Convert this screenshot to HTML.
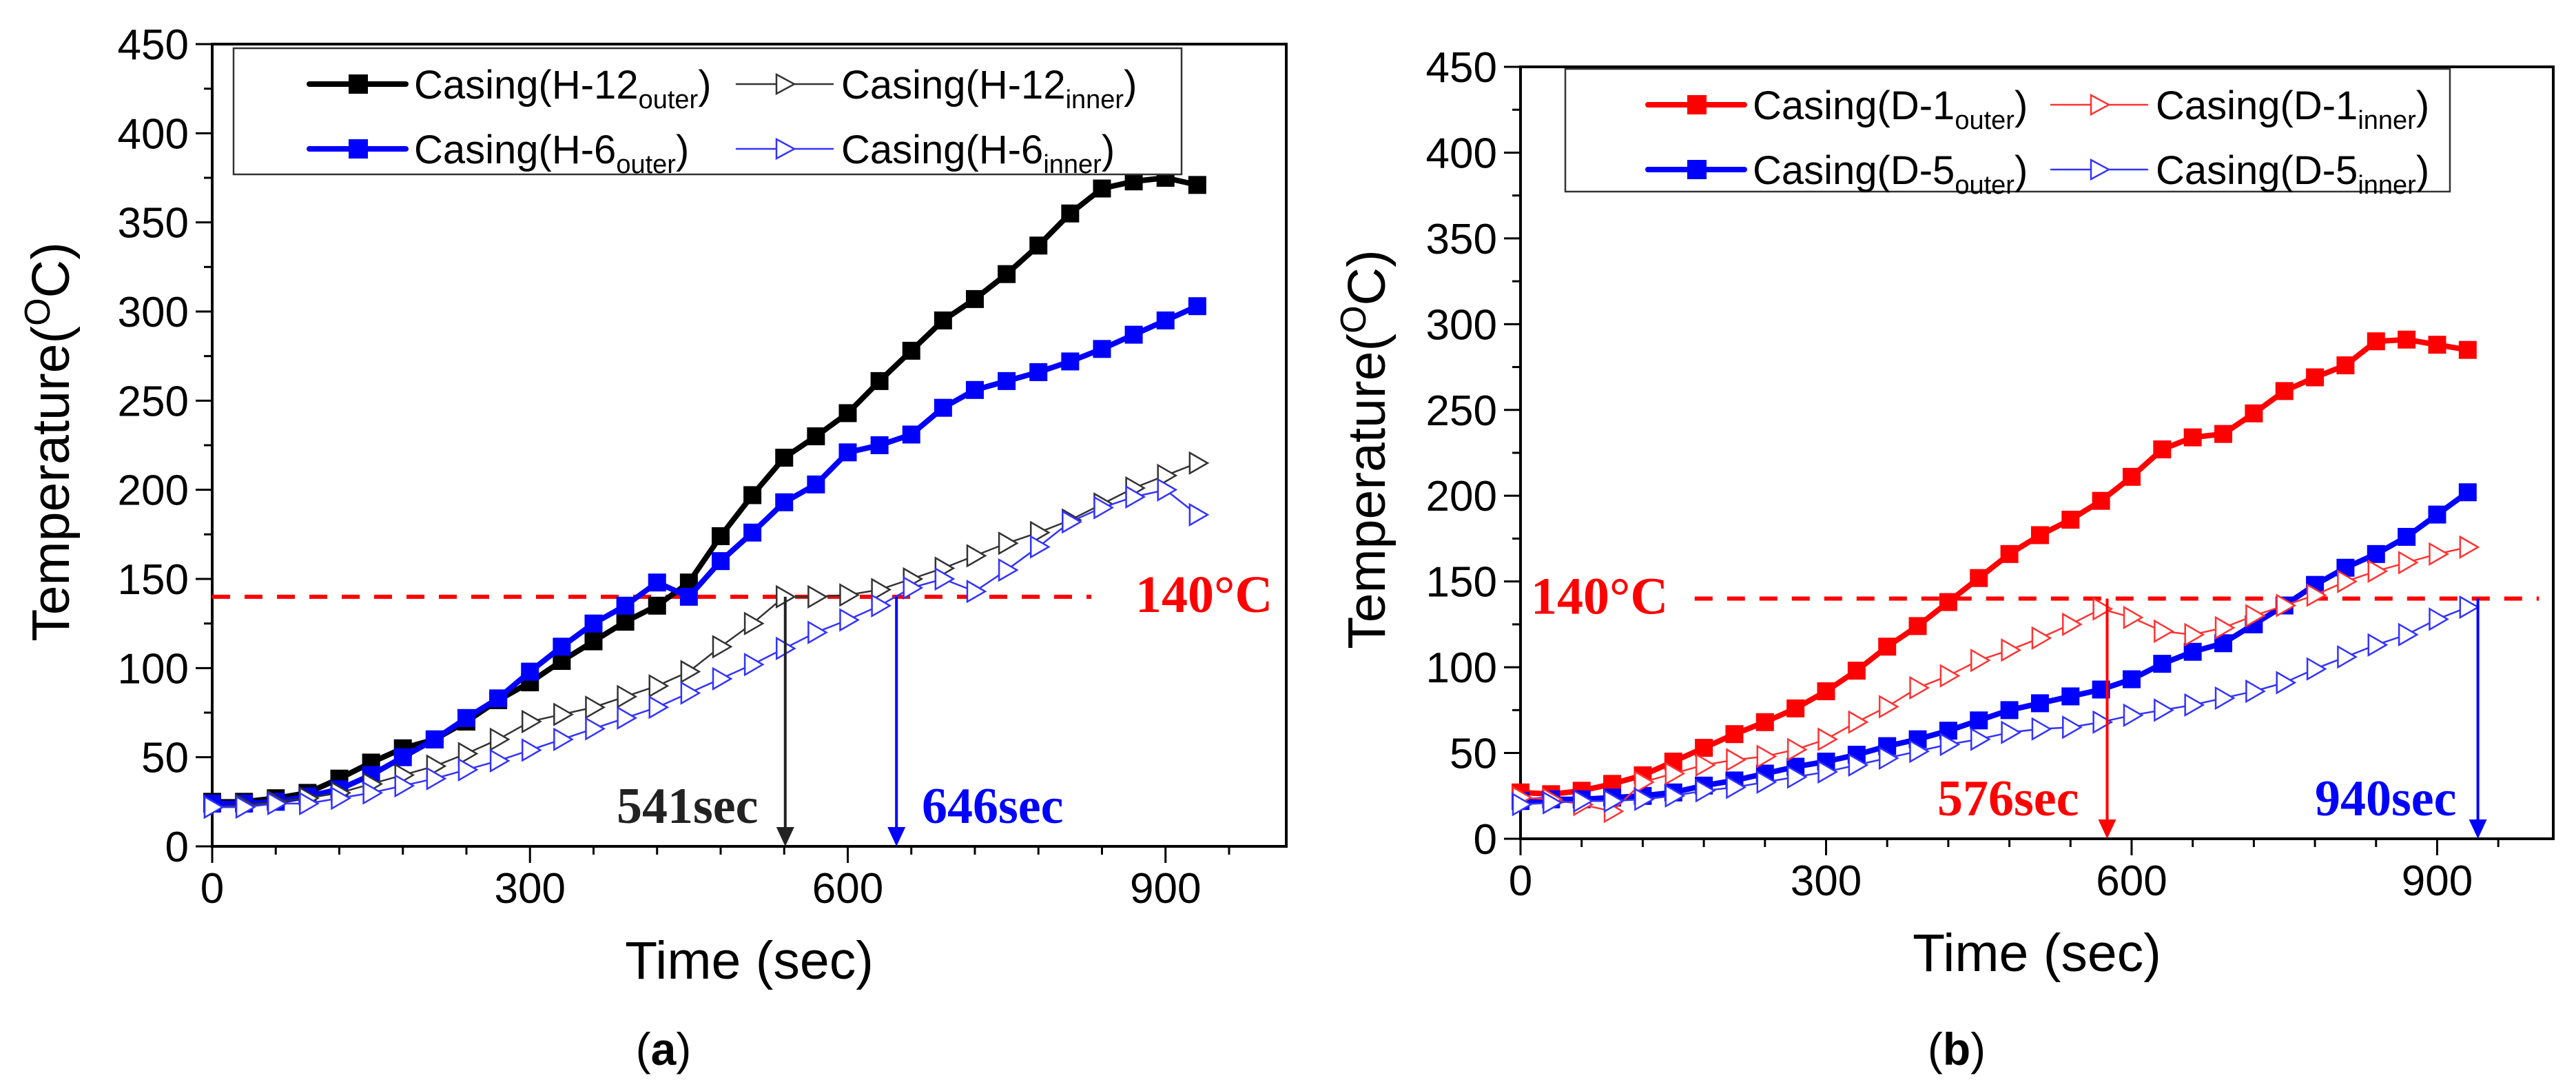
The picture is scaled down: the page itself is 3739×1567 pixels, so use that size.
<!DOCTYPE html>
<html><head><meta charset="utf-8"><style>
html,body{margin:0;padding:0;background:#fff;}
svg{display:block;}
text{font-family:"Liberation Sans",sans-serif;}
.serif{font-family:"Liberation Serif",serif;font-weight:bold;}
</style></head><body>
<svg id="fig" width="3739" height="1567" viewBox="0 0 3739 1567" xmlns="http://www.w3.org/2000/svg">
<g id="pa"></g>
<g id="pb"></g>
</svg>
<script>
const times = [0,30,60,90,120,150,180,210,240,270,300,330,360,390,420,450,480,510,540,570,600,630,660,690,720,750,780,810,840,870,900,930];
const h12Outer = [25,25,27,30,38,47,55,60,70,82,92,104,115,126,135,148,174,197,218,230,243,261,278,295,307,321,337,355,369,373,375,371];
const h6Outer = [24,24,25,28,32,40,50,60,72,83,98,112,125,135,148,140,160,176,193,203,221,225,231,246,256,261,266,272,279,287,295,303];
const h12Inner = [22,23,25,27,30,35,40,45,52,60,70,74,78,84,90,98,112,125,140,140,141,144,150,156,163,170,176,183,192,201,208,215];
const h6Inner = [22,22,24,24,27,30,34,38,43,48,54,60,66,72,78,86,94,102,111,120,127,135,145,150,143,155,168,182,190,196,200,186];
const d1Outer = [27,26,28,32,37,45,53,61,68,76,86,98,112,124,138,152,166,177,186,197,211,227,234,236,248,261,269,276,290,291,288,285];
const d1Inner = [24,23,20,16,33,38,43,46,48,52,58,68,77,88,95,104,110,117,125,134,129,121,119,123,130,136,142,150,156,161,166,170];
const d5Outer = [22,23,23,24,25,27,31,34,38,42,45,49,54,58,63,69,75,79,83,87,93,102,109,114,125,136,148,158,166,176,189,202];
const d5Inner = [20,21,22,22,23,25,28,30,33,36,39,43,47,51,55,58,62,64,65,68,72,75,78,82,86,91,99,106,113,119,128,135];
const yTicks = [0,50,100,150,200,250,300,350,400,450];
const xTicks = [0,300,600,900];
const thresholdA = 140, arrowsA = [541,646];
const thresholdB = 140, arrowsB = [576,940];

const NS = "http://www.w3.org/2000/svg";
function mk(parent, tag, attrs, text){
  const e = document.createElementNS(NS, tag);
  for (const k in attrs) e.setAttribute(k, attrs[k]);
  if (text !== undefined) e.textContent = text;
  parent.appendChild(e); return e;
}

function chart(g, cfg){
  const L=cfg.L, R=cfg.R, T=cfg.T, B=cfg.B, xmax=1014, ymax=450;
  const sx = v => L + v/xmax*(R-L);
  const sy = v => B - v/ymax*(B-T);
  const fr = mk(g,'rect',{x:L,y:T,width:R-L,height:B-T,fill:'none',stroke:'#000','stroke-width':4});
  
  
  for (let v=0; v<=450; v+=25){
    const major = v%50===0;
    const t = mk(g,'line',{x1:L-(major?24:12),x2:L,y1:sy(v),y2:sy(v),stroke:'#000','stroke-width':3});
    
    
  }
  yTicks.forEach(v=>{
    const t = mk(g,'text',{x:L-34,y:sy(v)+22,'font-size':62,'text-anchor':'end',fill:'#000'},String(v));
    
    
  });
  for (let v=0; v<=xmax; v+=60){
    const major = v%300===0;
    const t = mk(g,'line',{x1:sx(v),x2:sx(v),y1:B,y2:B+(major?24:12),stroke:'#000','stroke-width':3});
    
    
  }
  xTicks.forEach(v=>{
    const t = mk(g,'text',{x:sx(v),y:B+82,'font-size':62,'text-anchor':'middle',fill:'#000'},String(v));
    
    
  });
  const xt = mk(g,'text',{x:(L+R)/2,y:B+192,'font-size':77,'text-anchor':'middle',fill:'#000'},'Time (sec)');
  
  
  const yt = mk(g,'text',{transform:`translate(${cfg.yTitleX},${(T+B)/2-5}) rotate(-90)`,'font-size':77,'text-anchor':'middle',fill:'#000'});
  
  
  mk(yt,'tspan',{},'Temperature(');
  mk(yt,'tspan',{'font-size':52,dy:-28},'O');
  mk(yt,'tspan',{dy:28},'C)');
  const th = mk(g,'line',{x1:sx(cfg.dashFrom),x2:sx(cfg.dashTo),y1:sy(cfg.thr),y2:sy(cfg.thr),stroke:'#f00','stroke-width':6,'stroke-dasharray':'26 21'});
  
  
  const tl = mk(g,'text',{x:cfg.thrLabelX,y:sy(cfg.thr)+22,'font-size':76,fill:'#f00','class':'serif'},'140°C');
  
  
  cfg.series.forEach(s=>{
    const sg = mk(g,'g',{});
    
    
    const pts = times.map((t,i)=>sx(t)+','+sy(s.data[i])).join(' ');
    mk(sg,'polyline',{points:pts,fill:'none',stroke:s.color,'stroke-width':s.filled?8:2.5,'stroke-linejoin':'round'});
    times.forEach((t,i)=>{
      const x=sx(t), y=sy(s.data[i]);
      let m;
      if (s.filled) m = mk(sg,'rect',{x:x-13,y:y-13,width:26,height:26,fill:s.color});
      else m = mk(sg,'polygon',{points:`${x-11},${y-15} ${x+15},${y} ${x-11},${y+15}`,fill:'#fff',stroke:s.color,'stroke-width':2.5});
      
      
    });
  });
  cfg.arrows.forEach(a=>{
    const x=sx(a.t);
    const ag = mk(g,'g',{});
    
    
    mk(ag,'line',{x1:x,x2:x,y1:sy(cfg.thr),y2:B-26,stroke:a.color,'stroke-width':4});
    mk(ag,'polygon',{points:`${x-13},${B-28} ${x+13},${B-28} ${x},${B}`,fill:a.color});
    const lt = mk(g,'text',{x:a.lx,y:B-34,'font-size':74,fill:a.color,'class':'serif'},a.t+'sec');
    
    
  });
  const lg = mk(g,'g',{});
  
  
  mk(lg,'rect',{x:cfg.leg.x,y:cfg.leg.y,width:cfg.leg.w,height:cfg.leg.h,fill:'#fff',stroke:'#333','stroke-width':2.5});
  cfg.series.forEach((s,i)=>{
    const col=i<2?0:1, row=i%2;
    const lx = cfg.leg.x + (col===0?cfg.leg.c1:cfg.leg.c2);
    const ly = cfg.leg.y + 52 + row*94;
    const e = mk(lg,'g',{});
    
    
    mk(e,'line',{x1:lx,x2:lx+140,y1:ly,y2:ly,stroke:s.color,'stroke-width':s.filled?8:2.5,'stroke-linecap':'round'});
    if (s.filled) mk(e,'rect',{x:lx+57,y:ly-14,width:28,height:28,fill:s.color});
    else mk(e,'polygon',{points:`${lx+58},${ly-14} ${lx+84},${ly} ${lx+58},${ly+14}`,fill:'#fff',stroke:s.color,'stroke-width':2.5});
    const t = mk(e,'text',{x:lx+152,y:ly+21,'font-size':58,fill:'#000'});
    mk(t,'tspan',{},s.label);
    mk(t,'tspan',{'font-size':38,dy:14},s.sub);
    mk(t,'tspan',{dy:-14},')');
  });
  const cp = mk(g,'text',{x:cfg.capX,y:1545,'font-size':66,'text-anchor':'middle',fill:'#000','font-family':'Liberation Serif, serif'});
  
  
  mk(cp,'tspan',{},'(');
  mk(cp,'tspan',{'font-weight':'bold'},cfg.cap);
  mk(cp,'tspan',{},')');
}

chart(document.getElementById('pa'),{
  L:308,R:1867,T:64,B:1228,yTitleX:100,thr:thresholdA,dashFrom:0,dashTo:830,thrLabelX:1648,
  arrows:[{t:arrowsA[0],color:'#222',lx:895},{t:arrowsA[1],color:'#00f',lx:1338}],
  leg:{x:339,y:70,w:1376,h:183,c1:110,c2:730},
  capX:963,cap:'a',
  series:[
    {name:'series-h12-outer',data:h12Outer,color:'#000',filled:true,label:'Casing(H-12',sub:'outer'},
    {name:'series-h6-outer',data:h6Outer,color:'#00f',filled:true,label:'Casing(H-6',sub:'outer'},
    {name:'series-h12-inner',data:h12Inner,color:'#333',filled:false,label:'Casing(H-12',sub:'inner'},
    {name:'series-h6-inner',data:h6Inner,color:'#33f',filled:false,label:'Casing(H-6',sub:'inner'}
  ]
});
chart(document.getElementById('pb'),{
  L:2207,R:3706,T:97,B:1217,yTitleX:2010,thr:thresholdB,dashFrom:171,dashTo:1000,thrLabelX:2222,
  arrows:[{t:arrowsB[0],color:'#f00',lx:2812},{t:arrowsB[1],color:'#00f',lx:3360}],
  leg:{x:2272,y:100,w:1284,h:178,c1:120,c2:705},
  capX:2840,cap:'b',
  series:[
    {name:'series-d1-outer',data:d1Outer,color:'#f00',filled:true,label:'Casing(D-1',sub:'outer'},
    {name:'series-d5-outer',data:d5Outer,color:'#00f',filled:true,label:'Casing(D-5',sub:'outer'},
    {name:'series-d1-inner',data:d1Inner,color:'#f33',filled:false,label:'Casing(D-1',sub:'inner'},
    {name:'series-d5-inner',data:d5Inner,color:'#33f',filled:false,label:'Casing(D-5',sub:'inner'}
  ]
});
</script>
</body></html>
